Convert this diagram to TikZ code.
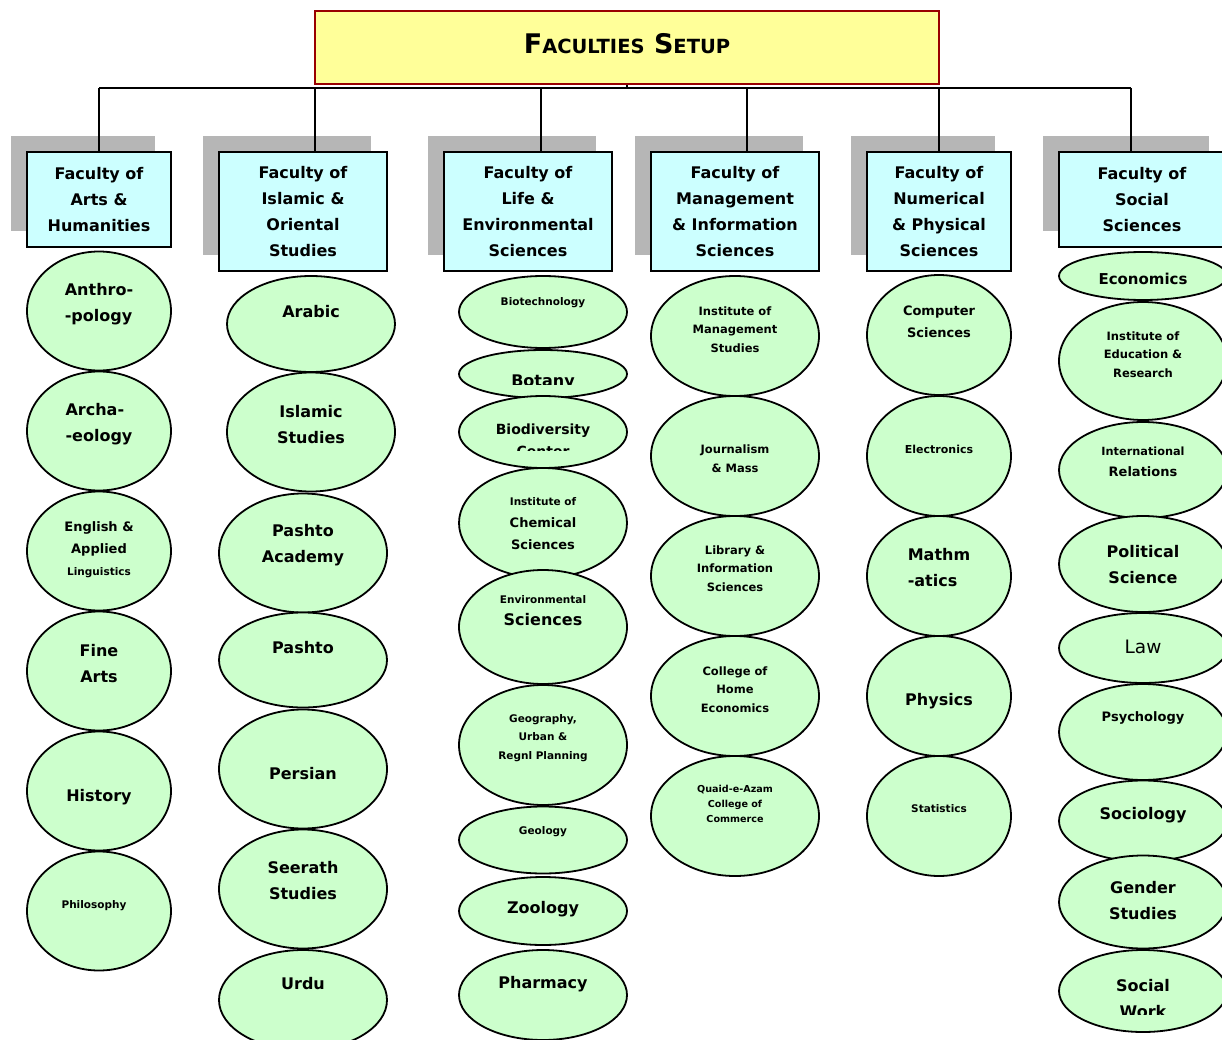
\documentclass[tikz,border=0pt]{standalone}
\usepackage{fontspec}
\setmainfont{DejaVu Sans}
\usetikzlibrary{shapes.geometric}
\usetikzlibrary{shadows}

\definecolor{deptgreen}{HTML}{CCFFCC}
\definecolor{faccyan}{HTML}{CCFFFF}
\definecolor{titleyellow}{HTML}{FFFF99}
\definecolor{titlered}{HTML}{990000}
\definecolor{shadowgray}{HTML}{B6B6B6}

\newcommand\szbig{\fontsize{16}{26}\selectfont}
\newcommand\szmid{\fontsize{13}{22}\selectfont}
\newcommand\szsml{\fontsize{11.5}{18.5}\selectfont}
\newcommand\sztiny{\fontsize{10.5}{15}\selectfont}

\begin{document}
\begin{tikzpicture}[x=1pt, y=-1pt,
  titlebox/.style={rectangle, draw=titlered, line width=2pt, fill=titleyellow,
    minimum width=624pt, minimum height=73pt, text depth=8pt,
    font=\bfseries\fontsize{27}{30}\selectfont},
  fac/.style={rectangle, draw, line width=2pt, fill=faccyan, minimum width=168pt,
    minimum height=119pt, align=center, font=\bfseries\szbig,
    general shadow={shadow xshift=-16pt, shadow yshift=16pt, fill=shadowgray}},
  dept/.style={ellipse, draw, line width=1.8pt, fill=deptgreen, minimum width=168pt,
    minimum height=#1, inner sep=0pt},
  dept/.default=120pt,
  narrow/.style={minimum width=144pt},
  tbig/.style={font=\bfseries\szbig, align=center},
  tmid/.style={font=\bfseries\szmid, align=center},
  tsml/.style={font=\bfseries\szsml, align=center},
  ttiny/.style={font=\bfseries\sztiny, align=center},
  link/.style={line width=2pt}]
\useasboundingbox (0,0) rectangle (1222,1040);

% title
\node[titlebox] (setup) at (627,47.5)
  {F{\fontsize{19.5}{22}\selectfont ACULTIES} S{\fontsize{19.5}{22}\selectfont ETUP}};

% faculties
\node[fac, minimum width=144pt, minimum height=95pt] (arts) at (99,199.5) {Faculty of\\Arts \&\\Humanities};
\node[fac] (islamic) at (303,211.5) {Faculty of\\Islamic \&\\Oriental\\Studies};
\node[fac] (life) at (528,211.5) {Faculty of\\Life \&\\Environmental\\Sciences};
\node[fac] (mgmt) at (735,211.5) {Faculty of\\Management\\\& Information\\Sciences};
\node[fac, minimum width=144pt] (numer) at (939,211.5) {Faculty of\\Numerical\\\& Physical\\Sciences};
\node[fac, minimum width=166pt, minimum height=95pt] (social) at (1142,199.5) {Faculty of\\Social\\Sciences};

% tree lines
\coordinate (barL) at (99,88);
\coordinate (b2) at (315,88);
\coordinate (b3) at (541,88);
\coordinate (b4) at (747,88);
\coordinate (b5) at (939,88);
\coordinate (barR) at (1131,88);
\draw[link] (setup.south) -- (setup.south |- barL);
\draw[link] (barL) -- (barR);
\draw[link] (barL) -- (arts.north);
\draw[link] (b2) -- (b2 |- islamic.north);
\draw[link] (b3) -- (b3 |- life.north);
\draw[link] (b4) -- (b4 |- mgmt.north);
\draw[link] (b5) -- (b5 |- numer.north);
\draw[link] (barR) -- (barR |- social.north);

% arts & humanities
\node[dept=119pt, narrow] (anthro) at (99,311) {};
\node[dept=119pt, narrow] (archa) at (99,431) {};
\node[dept=119pt, narrow] (english) at (99,551) {};
\node[dept=119pt, narrow] (finearts) at (99,671) {};
\node[dept=119pt, narrow] (history) at (99,791) {};
\node[dept=119pt, narrow] (philo) at (99,911) {};

% islamic & oriental
\node[dept=96pt] (arabic) at (311,324) {};
\node[dept=119pt] (islamst) at (311,432) {};
\node[dept=119pt] (pashtoac) at (303,553) {};
\node[dept=95pt] (pashto) at (303,660) {};
\node[dept=119pt] (persian) at (303,769) {};
\node[dept=119pt] (seerath) at (303,889) {};
\node[dept=100pt] (urdu) at (303,1000) {};

% life & environmental
\node[dept=72pt] (biotech) at (543,312) {};
\node[dept=48pt] (botany) at (543,374) {};
\node[dept=72pt] (biodiv) at (543,432) {};
\node[dept=110pt] (chem) at (543,523) {};
\node[dept=114pt] (envsci) at (543,627) {};
\node[dept=120pt] (geog) at (543,745) {};
\node[dept=67pt] (geol) at (543,840) {};
\node[dept=68pt] (zool) at (543,911) {};
\node[dept=90pt] (pharm) at (543,995) {};

% management & information
\node[dept] (ims) at (735,336) {};
\node[dept] (journ) at (735,456) {};
\node[dept] (lib) at (735,576) {};
\node[dept] (home) at (735,696) {};
\node[dept] (quaid) at (735,816) {};

% numerical & physical
\node[dept, narrow] (comp) at (939,335) {};
\node[dept, narrow] (elec) at (939,456) {};
\node[dept, narrow] (math) at (939,576) {};
\node[dept, narrow] (phys) at (939,696) {};
\node[dept, narrow] (stat) at (939,816) {};

% social sciences
\node[dept=48pt] (econ) at (1143,276) {};
\node[dept=118pt] (edu) at (1143,361) {};
\node[dept=96pt] (intl) at (1143,470) {};
\node[dept=96pt] (polsci) at (1143,564) {};
\node[dept=70pt] (law) at (1143,648) {};
\node[dept=96pt] (psych) at (1143,732) {};
\node[dept=81pt] (socio) at (1143,821) {};
\node[dept=93pt] (gender) at (1143,902) {};
\node[dept=82pt] (socwork) at (1143,991) {};

% department names
\node[tbig, align=left] (anthroT) at (99,304) {Anthro-\\-pology};
\node[tbig, align=left] (archaT) at (99,424) {Archa-\\-eology};
\node[tmid] (englishT) at (99,550) {English \&\\Applied\\{\sztiny Linguistics}};
\node[tbig] (fineartsT) at (99,664) {Fine\\Arts};
\node[tbig] (historyT) at (99,797) {History};
\node[ttiny] (philoT) at (94,906) {Philosophy};

\node[tbig] (arabicT) at (311,312) {Arabic};
\node[tbig] (islamstT) at (311,425) {Islamic\\Studies};
\node[tbig] (pashtoacT) at (303,545) {Pashto\\Academy};
\node[tbig] (pashtoT) at (303,648) {Pashto};
\node[tbig] (persianT) at (303,774) {Persian};
\node[tbig] (seerathT) at (303,881) {Seerath\\Studies};
\node[tbig] (urduT) at (303,984) {Urdu};

\node[ttiny] (biotechT) at (543,303) {Biotechnology};
\begin{scope}
\clip (459,350) rectangle (627,384);
\node[tbig, anchor=base] (botanyT) at (543,386) {Botany};
\end{scope}
\begin{scope}
\clip (459,400) rectangle (627,450);
\node[tmid, font=\bfseries\fontsize{14}{22}\selectfont] (biodivT) at (543,440) {Biodiversity\\Center};
\end{scope}
\node[tmid] (chemT) at (543,524) {{\sztiny Institute of}\\Chemical\\Sciences};
\node[tbig] (envsciT) at (543,611) {{\sztiny Environmental}\\[-4pt]Sciences};
\node[ttiny, font=\bfseries\fontsize{10.5}{18.5}\selectfont] (geogT) at (543,738) {Geography,\\Urban \&\\Regnl Planning};
\node[ttiny] (geolT) at (543,832) {Geology};
\node[tbig] (zoolT) at (543,909) {Zoology};
\node[tbig] (pharmT) at (543,984) {Pharmacy};

\node[tsml] (imsT) at (735,329.5) {Institute of\\Management\\Studies};
\node[tsml] (journT) at (735,458.5) {Journalism\\\& Mass};
\node[tsml] (libT) at (735,568.5) {Library \&\\Information\\Sciences};
\node[tsml] (homeT) at (735,689.5) {College of\\Home\\Economics};
\node[ttiny, font=\bfseries\fontsize{9.6}{15}\selectfont] (quaidT) at (735,804) {Quaid-e-Azam\\College of\\Commerce};

\node[tmid] (compT) at (939,322) {Computer\\Sciences};
\node[ttiny, font=\bfseries\fontsize{11}{15}\selectfont] (elecT) at (939,449) {Electronics};
\node[tbig, align=left] (mathT) at (939,568) {Mathm\\-atics};
\node[tbig] (physT) at (939,701) {Physics};
\node[ttiny] (statT) at (939,809) {Statistics};

\node[tbig, font=\bfseries\fontsize{15}{26}\selectfont] (econT) at (1143,279) {Economics};
\node[tsml] (eduT) at (1143,354.5) {Institute of\\Education \&\\Research};
\node[tmid, font=\bfseries\fontsize{13}{21}\selectfont] (intlT) at (1143,462) {{\fontsize{11.3}{15}\selectfont International}\\Relations};
\node[tbig] (polsciT) at (1143,565) {Political\\Science};
\node[font=\fontsize{18.5}{22}\selectfont] (lawT) at (1143,647) {Law};
\node[tmid] (psychT) at (1143,718) {Psychology};
\node[tbig] (socioT) at (1143,815) {Sociology};
\node[tbig] (genderT) at (1143,901) {Gender\\Studies};
\begin{scope}
\clip (1059,950) rectangle (1227,1014);
\node[tbig] (socworkT) at (1143,999) {Social\\Work};
\end{scope}

\end{tikzpicture}
\end{document}
